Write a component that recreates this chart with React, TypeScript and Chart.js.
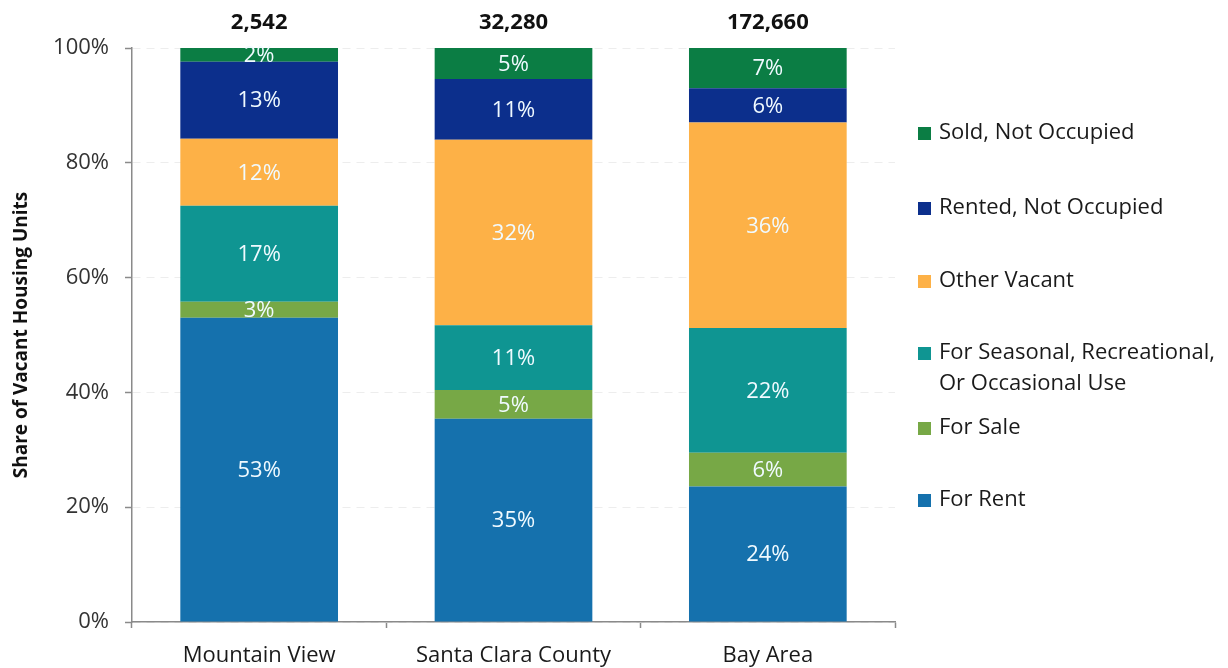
import React, { useEffect, useRef } from 'react';
import { Chart, registerables } from 'chart.js';

Chart.register(...registerables);

const categories = ['Mountain View', 'Santa Clara County', 'Bay Area'];
const totals = [2542, 32280, 172660];
const forRent = [53.0, 35.4, 23.6];
const forSale = [2.8, 5.0, 5.9];
const seasonalUse = [16.7, 11.3, 21.7];
const otherVacant = [11.7, 32.3, 35.8];
const rentedNotOccupied = [13.4, 10.6, 6.0];
const soldNotOccupied = [2.4, 5.4, 7.0];
const seriesNames: (string | string[])[] = [
  'For Rent',
  'For Sale',
  ['For Seasonal, Recreational,', 'Or Occasional Use'],
  'Other Vacant',
  'Rented, Not Occupied',
  'Sold, Not Occupied',
];
const seriesColors = ['#1571ad', '#77a846', '#0f9592', '#fdb147', '#0c2f8c', '#0b7d44'];
const yAxisTitle = 'Share of Vacant Housing Units';

const FONT = "'Open Sans', 'DejaVu Sans', sans-serif";

const segmentLabels = {
  id: 'segmentLabels',
  afterDatasetsDraw(chart: any) {
    const ctx = chart.ctx;
    ctx.save();
    ctx.font = `22px ${FONT}`;
    ctx.fillStyle = '#f0faff';
    ctx.textAlign = 'center';
    ctx.textBaseline = 'middle';
    chart.data.datasets.forEach((ds: any, i: number) => {
      const meta = chart.getDatasetMeta(i);
      meta.data.forEach((bar: any, j: number) => {
        const v = ds.data[j];
        const p = bar.getProps(['x', 'y', 'base'], true);
        ctx.fillText(Math.round(v) + '%', p.x, (p.y + p.base) / 2 + 1);
      });
    });
    ctx.font = `bold 22px ${FONT}`;
    ctx.fillStyle = '#111';
    const meta0 = chart.getDatasetMeta(chart.data.datasets.length - 1);
    meta0.data.forEach((bar: any, j: number) => {
      const p = bar.getProps(['x'], true);
      ctx.fillText(totals[j].toLocaleString('en-US'), p.x, chart.chartArea.top - 25);
    });
    ctx.restore();
  },
};

const sideLegend = {
  id: 'sideLegend',
  afterDraw(chart: any, _args: any, opts: any) {
    const ctx = chart.ctx;
    const x0 = chart.chartArea.right + opts.offsetX;
    const ys: number[] = opts.itemY;
    ctx.save();
    ctx.font = `22px ${FONT}`;
    ctx.textAlign = 'left';
    ctx.textBaseline = 'middle';
    const n = chart.data.datasets.length;
    for (let k = 0; k < n; k++) {
      const idx = n - 1 - k;
      const ds = chart.data.datasets[idx];
      const y = ys[k];
      ctx.fillStyle = ds.backgroundColor;
      ctx.fillRect(x0, y - 6, 13, 13);
      ctx.fillStyle = '#1a1a1a';
      const lines = Array.isArray(ds.legendText) ? ds.legendText : [ds.legendText];
      lines.forEach((t: string, li: number) => {
        ctx.fillText(t, x0 + 21, y + li * opts.lineStep);
      });
    }
    ctx.restore();
  },
};

export default function App() {
  const ref = useRef<HTMLCanvasElement | null>(null);

  useEffect(() => {
    if (!ref.current) return;
    const seriesData = [forRent, forSale, seasonalUse, otherVacant, rentedNotOccupied, soldNotOccupied];
    const chart = new Chart(ref.current, {
      type: 'bar',
      data: {
        labels: categories,
        datasets: seriesData.map((d, i) => ({
          label: Array.isArray(seriesNames[i]) ? (seriesNames[i] as string[]).join(' ') : (seriesNames[i] as string),
          legendText: seriesNames[i],
          data: d,
          backgroundColor: seriesColors[i],
          borderWidth: 0,
          barPercentage: 0.62,
          categoryPercentage: 1,
        })) as any,
      },
      options: {
        animation: false,
        responsive: true,
        maintainAspectRatio: false,
        layout: { padding: { top: 48, right: 333, left: 0, bottom: 0 } },
        plugins: {
          legend: { display: false },
          tooltip: { enabled: false },
          sideLegend: { offsetX: 23, itemY: [133, 208, 281, 353, 428, 500], lineStep: 31 },
        } as any,
        scales: {
          x: {
            stacked: true,
            grid: {
              display: true,
              drawOnChartArea: false,
              drawTicks: true,
              tickLength: 6,
              tickColor: '#8a8a8a',
              tickWidth: 1.5,
              offset: true,
            },
            border: { color: '#8a8a8a', width: 1.5 },
            ticks: { color: '#1a1a1a', font: { family: FONT, size: 22 }, padding: 15 },
            afterFit: (s: any) => { s.height = 46; },
          },
          y: {
            stacked: true,
            min: 0,
            max: 100,
            grid: {
              color: '#ededed',
              drawTicks: true,
              tickLength: 7,
              tickColor: '#8a8a8a',
              tickBorderDash: [],
              tickWidth: 1.5,
            } as any,
            border: { color: '#8a8a8a', width: 1.5, dash: [8, 6] } as any,
            ticks: {
              stepSize: 20,
              color: '#333',
              font: { family: FONT, size: 22 },
              padding: 16,
              callback: (v: any) => v + '%',
            },
            title: {
              display: true,
              text: yAxisTitle,
              color: '#111',
              font: { family: FONT, size: 19, weight: 'bold' },
              padding: { top: 10, bottom: 0 },
            },
            afterFit: (s: any) => { s.width = 132; },
          },
        },
      },
      plugins: [segmentLabels, sideLegend],
    });
    return () => chart.destroy();
  }, []);

  return (
    <div style={{ position: 'absolute', left: 0, top: 0, width: 1228, height: 668, background: '#fff' }}>
      <canvas ref={ref} />
    </div>
  );
}
